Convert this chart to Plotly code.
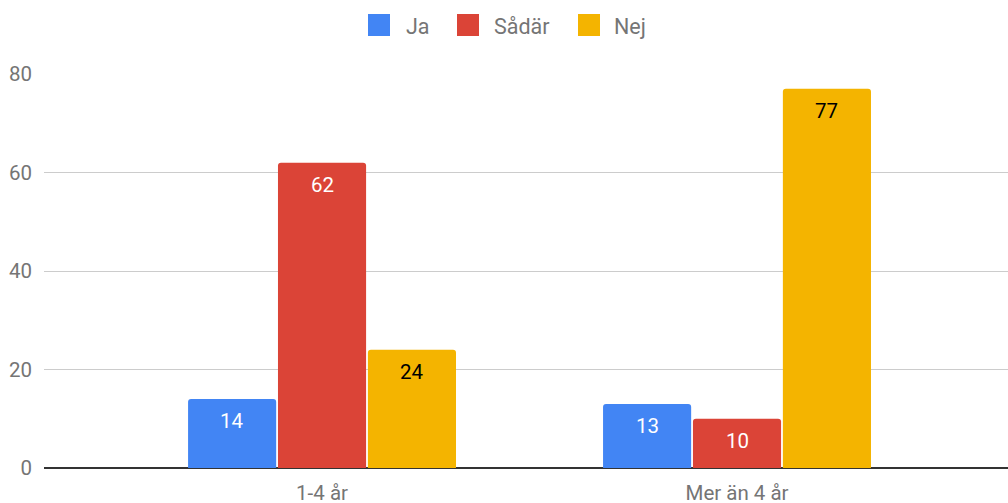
import plotly.graph_objects as go

categories = ["1-4 år", "Mer än 4 år"]
series_names = ["Ja", "Sådär", "Nej"]
ja = [14, 13]
sadar = [62, 10]
nej = [24, 77]
colors = ["#4285F4", "#DB4437", "#F4B400"]
text_colors = ["white", "white", "black"]

W, H = 1008, 503
L, R, T, B = 44, 0, 74, 35
PW, PH = W - L - R, H - T - B

def px_x(p):
    return (p - L) / PW

def px_y(p):
    return (H - B - p) / PH

fig = go.Figure()
bargap = 0.35
group_w = 1 - bargap
bar_w = group_w / 3
for i, (name, vals, c, tc) in enumerate(zip(series_names, [ja, sadar, nej], colors, text_colors)):
    fig.add_trace(go.Bar(
        x=categories, y=vals, name=name, marker_color=c,
        marker_line_width=0, showlegend=False,
    ))
    off = (i - 1) * bar_w
    for j, v in enumerate(vals):
        fig.add_annotation(x=j + off, y=v, text=str(v), showarrow=False,
                           yshift=-22, yanchor="middle", xanchor="center",
                           font=dict(color=tc, size=20.5, family="Roboto"))

# custom legend
legend_items = [(368, 404), (457, 492), (578, 612)]
for (sx, tx), name, c in zip(legend_items, series_names, colors):
    fig.add_shape(type="rect", xref="paper", yref="paper",
                  x0=px_x(sx), x1=px_x(sx + 22), y0=px_y(36), y1=px_y(14),
                  fillcolor=c, line=dict(width=0))
    fig.add_annotation(xref="paper", yref="paper", x=px_x(tx), y=px_y(26),
                       text=name, showarrow=False, xanchor="left", yanchor="middle",
                       font=dict(size=21.5, color="#757575", family="Roboto"))

fig.update_layout(
    width=W, height=H,
    margin=dict(l=L, r=R, t=T, b=B),
    paper_bgcolor="white", plot_bgcolor="white",
    barmode="group", bargap=bargap, bargroupgap=0.02, barcornerradius=3,
    font=dict(family="Roboto", size=17, color="#757575"),
    showlegend=False,
)
fig.update_xaxes(range=[-0.67, 1.653], showgrid=False, ticks="", showline=False,
                 automargin=False, ticklabelstandoff=10,
                 tickfont=dict(size=20.5, color="#757575"))
fig.update_yaxes(range=[0, 80], tickvals=[0, 20, 40, 60, 80], gridcolor="#cccccc",
                 zeroline=True, zerolinecolor="#333333", zerolinewidth=1.5,
                 automargin=False,
                 tickfont=dict(size=20.5, color="#757575"), ticklabelstandoff=11)

fig.write_html("out.html", post_script="document.body.style.margin='0';",
               config={"displayModeBar": False})
